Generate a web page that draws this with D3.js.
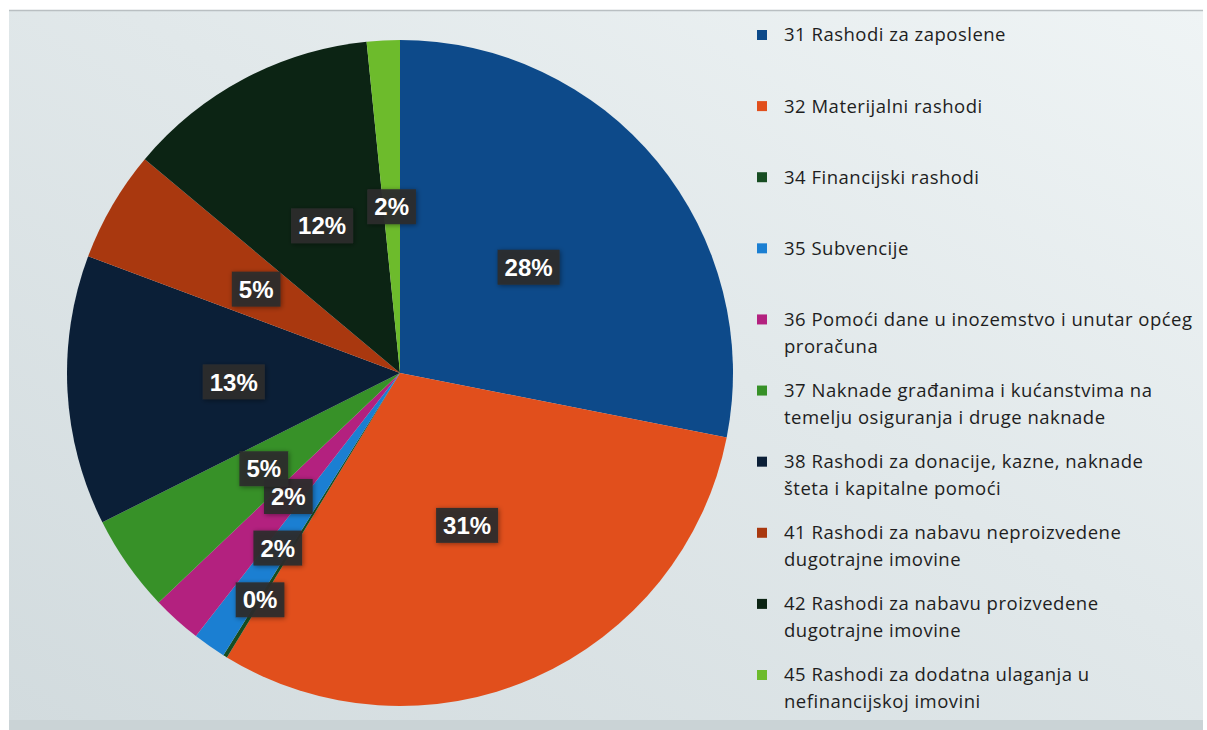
<!DOCTYPE html>
<html>
<head>
<meta charset="utf-8">
<script src="https://cdn.jsdelivr.net/npm/d3@7"></script>
<style>
  html, body { margin: 0; padding: 0; background: #fff; }
  svg { display: block; }
</style>
</head>
<body>
<div id="main"></div>
<script>
// data
const categories = ['31', '32', '34', '35', '36', '37', '38', '41', '42', '45'];
const legendLabels = [
    ['31 Rashodi za zaposlene'],
    ['32 Materijalni rashodi'],
    ['34 Financijski rashodi'],
    ['35 Subvencije'],
    ['36 Pomoći dane u inozemstvo i unutar općeg', 'proračuna'],
    ['37 Naknade građanima i kućanstvima na', 'temelju osiguranja i druge naknade'],
    ['38 Rashodi za donacije, kazne, naknade', 'šteta i kapitalne pomoći'],
    ['41 Rashodi za nabavu neproizvedene', 'dugotrajne imovine'],
    ['42 Rashodi za nabavu proizvedene', 'dugotrajne imovine'],
    ['45 Rashodi za dodatna ulaganja u', 'nefinancijskoj imovini']
];
const shares = [28.1, 30.6, 0.2, 1.6, 2.4, 4.7, 13.1, 5.4, 12.3, 1.6];
const colors = ['#0d4a8a', '#e14f1c', '#174d22', '#1b7fd2', '#b3217f', '#379128', '#0b1f37', '#a9380f', '#0c2414', '#6dbb2c'];

const W = 1207, H = 730;
const cx = 400, cy = 373, R = 333;

const svg = d3.select('#main').append('svg')
    .attr('width', W)
    .attr('height', H);

const defs = svg.append('defs');
let grad = defs.append('linearGradient')
    .attr('id', 'bg')
    .attr('x1', '0').attr('y1', '1').attr('x2', '1').attr('y2', '0');
grad.append('stop').attr('offset', '0%').attr('stop-color', '#d2dbde');
grad.append('stop').attr('offset', '55%').attr('stop-color', '#e1e8ea');
grad.append('stop').attr('offset', '100%').attr('stop-color', '#eff4f5');

let shadow = defs.append('filter').attr('id', 'shadow')
    .attr('x', '-30%').attr('y', '-30%').attr('width', '160%').attr('height', '160%');
shadow.append('feDropShadow')
    .attr('dx', 1).attr('dy', 1).attr('stdDeviation', 2.5)
    .attr('flood-color', '#000').attr('flood-opacity', 0.45);

// scanned panel
svg.append('rect').attr('x', 0).attr('y', 0).attr('width', W).attr('height', H).attr('fill', '#ffffff');
svg.append('rect')
    .attr('x', 9).attr('y', 10).attr('width', 1194).attr('height', 712)
    .attr('fill', 'url(#bg)');
svg.append('line')
    .attr('x1', 9).attr('x2', 1203).attr('y1', 10.5).attr('y2', 10.5)
    .attr('stroke', '#b9bfc2').attr('stroke-width', 1.5);
svg.append('rect')
    .attr('x', 9).attr('y', 720).attr('width', 1194).attr('height', 10)
    .attr('fill', '#cad3d6');

// pie
const pie = d3.pie().sort(null).value(d => d)(shares);
const arc = d3.arc().innerRadius(0).outerRadius(R);

const pieG = svg.append('g').attr('transform', `translate(${cx},${cy})`);
pieG.selectAll('path')
    .data(pie)
    .join('path')
    .attr('d', arc)
    .attr('fill', (d, i) => colors[i]);

// data labels
const total = d3.sum(shares);
const fmt = v => Math.round(v / total * 100) + '%';
const labelFont = 'bold 24px "Liberation Sans", Arial, sans-serif';
const labelH = 35, padX = 7, gap = 16;

let ctx = document.createElement('canvas').getContext('2d');
ctx.font = labelFont;

let labels = pie.map((d, i) => {
    let a = (d.startAngle + d.endAngle) / 2;
    let w = ctx.measureText(fmt(d.value)).width + padX * 2;
    return {i: i, a: a, r: R * 0.5, w: w, text: fmt(d.value), value: d.value};
});

function place(l) {
    l.x = Math.sin(l.a) * l.r;
    l.y = -Math.cos(l.a) * l.r;
}
function overlap(a, b, g) {
    let ox = Math.min(a.x + a.w / 2 + g, b.x + b.w / 2) - Math.max(a.x - a.w / 2 - g, b.x - b.w / 2);
    let oy = Math.min(a.y + labelH / 2 + g, b.y + labelH / 2) - Math.max(a.y - labelH / 2 - g, b.y - labelH / 2);
    return (ox > 0 && oy > 0) ? ox * oy : 0;
}

// bigger slices keep their spot, small crowded ones get pushed out
let placed = [];
labels.slice().sort((a, b) => b.value - a.value).forEach(l => {
    place(l);
    let crowded = placed.some(p => overlap(l, p, 0) > 0.2 * l.w * labelH);
    if (crowded) {
        while (placed.some(p => overlap(l, p, gap) > 0) && l.r < R * 1.2) {
            l.r += 1;
            place(l);
        }
    }
    placed.push(l);
});

let labelG = pieG.selectAll('g.lbl')
    .data(labels)
    .join('g')
    .attr('class', 'lbl')
    .attr('transform', d => `translate(${d.x},${d.y})`);

labelG.append('rect')
    .attr('x', d => -d.w / 2)
    .attr('y', -labelH / 2)
    .attr('width', d => d.w)
    .attr('height', labelH)
    .attr('fill', '#2e2e2e')
    .attr('fill-opacity', 0.92)
    .attr('filter', 'url(#shadow)');

labelG.append('text')
    .attr('text-anchor', 'middle')
    .attr('dy', '0.36em')
    .style('font', labelFont)
    .attr('fill', '#ffffff')
    .text(d => d.text);

// legend
const legendY = d3.scalePoint()
    .domain(categories)
    .range([35, 675]);

let legend = svg.append('g').selectAll('g')
    .data(categories)
    .join('g')
    .attr('transform', d => `translate(757,${legendY(d)})`);

legend.append('rect')
    .attr('x', 0).attr('y', -5)
    .attr('width', 10).attr('height', 10)
    .attr('fill', (d, i) => colors[i]);

legend.append('text')
    .attr('x', 27)
    .style('font-family', '"Open Sans", "Noto Sans", sans-serif')
    .style('font-size', '18.5px')
    .style('letter-spacing', '0.5px')
    .attr('fill', '#1e1e1e')
    .selectAll('tspan')
    .data((d, i) => legendLabels[i])
    .join('tspan')
    .attr('x', 27)
    .attr('y', (d, j) => j * 27)
    .attr('dy', '0.35em')
    .text(d => d);
</script>
</body>
</html>
